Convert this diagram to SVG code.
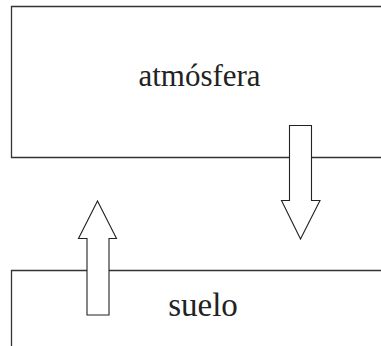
<svg xmlns="http://www.w3.org/2000/svg" width="381" height="346" viewBox="0 0 381 346">
<style>
.ln{fill:none;stroke:#333;stroke-width:1.3}
.ar{fill:#fff;stroke:#222;stroke-width:1.1;stroke-linejoin:miter}
.t{font-family:"Liberation Serif","Times New Roman",serif;fill:#222;text-anchor:middle}
</style>
<rect width="381" height="346" fill="#fff"/>
<g id="atmosfera">
<path class="ln" d="M381,6.5 H11.5 V157.5 H381"/>
<text class="t" x="199.5" y="86" font-size="31">atmósfera</text>
</g>
<g id="suelo">
<path class="ln" d="M381,270.5 H11.5 V346"/>
<text class="t" x="203" y="316" font-size="33">suelo</text>
</g>
<g id="connectors">
<path class="ar" d="M289.5,125.5 H311.5 V200.5 H320 L300.5,239 L281.5,200.5 H289.5 Z"/>
<path class="ar" d="M87,315 H109 V238.5 H116.5 L97.5,201 L78.5,238.5 H87 Z"/>
</g>
</svg>
